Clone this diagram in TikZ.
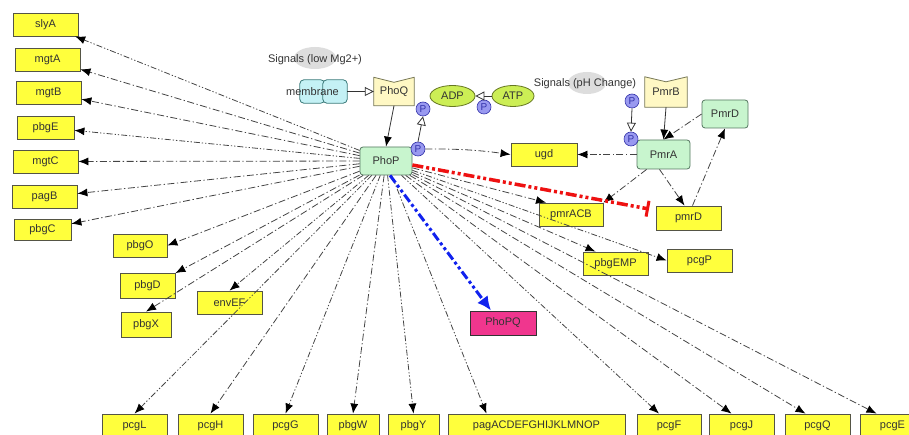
\documentclass[tikz,border=0pt]{standalone}
\usepackage{fontspec}
\setmainfont{Liberation Sans}
\usetikzlibrary{arrows.meta,shapes.geometric,backgrounds}
\definecolor{gy}{HTML}{FFFF3C}
\definecolor{bord}{HTML}{555545}
\definecolor{txt}{HTML}{333333}
\definecolor{gr}{HTML}{C8F5CE}
\definecolor{grb}{HTML}{557760}
\definecolor{pq}{HTML}{FFF8C4}
\definecolor{pqb}{HTML}{777755}
\definecolor{adp}{HTML}{CCEE55}
\definecolor{adpb}{HTML}{667722}
\definecolor{mag}{HTML}{F0368E}
\definecolor{mem}{HTML}{C4F1F5}
\definecolor{memb}{HTML}{3A7A7A}
\definecolor{pf}{HTML}{9999F0}
\definecolor{pb}{HTML}{3333AA}
\definecolor{lc}{HTML}{444444}
\definecolor{sg}{HTML}{DDDDDD}
\definecolor{rd}{HTML}{EE1111}
\definecolor{bl}{HTML}{1122EE}
\tikzset{
  gene/.style={draw=bord, fill=gy, line width=0.8pt, minimum height=23pt, inner sep=0pt, font=\fontsize{11}{13}\selectfont, text=txt},
  prot/.style={draw=grb, fill=gr, line width=0.8pt, rounded corners=3pt, inner sep=0pt, font=\fontsize{11}{13}\selectfont, text=txt},
  pnode/.style={circle, draw=pb, fill=pf, line width=0.6pt, minimum size=14pt, inner sep=0pt, font=\fontsize{10}{11}\selectfont, text=pb},
  mol/.style={ellipse, draw=adpb, fill=adp, line width=0.8pt, minimum height=21pt, inner sep=0pt, font=\fontsize{11}{13}\selectfont, text=txt},
  sig/.style={font=\fontsize{11}{13}\selectfont, text=txt},
  tip/.style={-{Latex[length=10pt,width=8pt,black]}},
  dd/.style={draw=lc, line width=0.8pt, tip, dash pattern=on 7pt off 2.5pt on 1.3pt off 2.5pt},
  ddd/.style={draw=lc, line width=0.8pt, tip, dash pattern=on 6pt off 2pt on 1.3pt off 2pt on 1.3pt off 2pt},
  opentip/.style={draw=txt, line width=0.8pt, -{Triangle[open, length=9pt, width=9pt]}},
}
\begin{document}
\begin{tikzpicture}[x=1pt,y=-1pt]
\useasboundingbox (0,0) rectangle (909,435);
% left column
\node[gene, minimum width=65pt] (slyA) at (45.5,24.5) {slyA};
\node[gene, minimum width=65pt] (mgtA) at (47.5,59.5) {mgtA};
\node[gene, minimum width=65pt] (mgtB) at (48.5,92.5) {mgtB};
\node[gene, minimum width=57pt] (pbgE) at (45.5,127.5) {pbgE};
\node[gene, minimum width=65pt] (mgtC) at (45.5,161.5) {mgtC};
\node[gene, minimum width=65pt] (pagB) at (44.5,197) {pagB};
\node[gene, minimum width=57pt, minimum height=21pt] (pbgC) at (42.5,229.5) {pbgC};
\node[gene, minimum width=54pt] (pbgO) at (140,245.5) {pbgO};
\node[gene, minimum width=55pt, minimum height=25pt] (pbgD) at (147.5,286) {pbgD};
\node[gene, minimum width=50pt, minimum height=25pt] (pbgX) at (146,324.5) {pbgX};
\node[gene, minimum width=65pt] (envEF) at (229.5,302.5) {envEF};
% bottom row
\node[gene, minimum width=65pt] (pcgL) at (134.5,425.5) {pcgL};
\node[gene, minimum width=65pt] (pcgH) at (210.5,425.5) {pcgH};
\node[gene, minimum width=65pt] (pcgG) at (285.5,425.5) {pcgG};
\node[gene, minimum width=52pt] (pbgW) at (353,425.5) {pbgW};
\node[gene, minimum width=51pt] (pbgY) at (413.5,425.5) {pbgY};
\node[gene, minimum width=177pt] (pagA) at (536.5,425.5) {pagACDEFGHIJKLMNOP};
\node[gene, minimum width=64pt] (pcgF) at (669,425.5) {pcgF};
\node[gene, minimum width=65pt] (pcgJ) at (741.5,425.5) {pcgJ};
\node[gene, minimum width=65pt] (pcgQ) at (817.5,425.5) {pcgQ};
\node[gene, minimum width=65pt] (pcgE) at (892.5,425.5) {pcgE};
% right side
\node[gene, minimum width=65pt] (pbgEMP) at (615.5,263.5) {pbgEMP};
\node[gene, minimum width=65pt] (pcgP) at (699.5,260.5) {pcgP};
\node[gene, minimum width=66pt, minimum height=24pt, fill=mag, draw=txt, line width=1pt] (PhoPQ) at (503,323) {PhoPQ};
\node[gene, minimum width=64pt] (pmrACB) at (571,214.5) {pmrACB};
\node[gene, minimum width=65pt, minimum height=24pt] (pmrD) at (688.5,218) {pmrD};
\node[gene, minimum width=66pt] (ugd) at (544,154.5) {ugd};
% proteins
\node[prot, minimum width=52pt, minimum height=28pt] (PhoP) at (386,161) {PhoP};
\node[prot, minimum width=53pt, minimum height=29pt] (PmrA) at (663.5,154.5) {PmrA};
\node[prot, minimum width=46pt, minimum height=28pt] (PmrD) at (725,114) {PmrD};
\node[minimum width=40pt, minimum height=28pt, inner sep=0pt, font=\fontsize{11}{13}\selectfont, text=txt] (PhoQ) at (394,91.5) {\raisebox{-2pt}{PhoQ}};
\node[minimum width=42pt, minimum height=30pt, inner sep=0pt, font=\fontsize{11}{13}\selectfont, text=txt] (PmrB) at (666,92) {\raisebox{-2pt}{PmrB}};
\node[minimum width=47pt, minimum height=23pt, inner sep=0pt] (memb) at (323.5,91.5) {};
\node[font=\fontsize{11}{13}\selectfont, text=txt] (membt) at (312.5,92) {membrane};
\node[mol, minimum width=45pt] (ADP) at (452.5,96) {ADP};
\node[mol, minimum width=42pt] (ATP) at (513,96) {ATP};
\node[pnode] (P1) at (484,107) {P};
\node[pnode] (P2) at (423,109) {P};
\node[pnode] (P3) at (418,149) {P};
\node[pnode] (P4) at (632,101) {P};
\node[pnode] (P5) at (631,139) {P};
\node[sig] (s1) at (315,60) {Signals (low Mg2+)};
\node[sig] (s2) at (585,84) {Signals (pH Change)};
\begin{scope}[on background layer]
  \fill[sg] (315,58) ellipse (21pt and 11pt);
  \fill[sg] (587,83) ellipse (19pt and 11pt);
  \draw[fill=pq, draw=pqb, line width=0.8pt] (PhoQ.north west) -- ([yshift=-5pt]PhoQ.north) -- (PhoQ.north east) -- (PhoQ.south east) -- (PhoQ.south west) -- cycle;
  \draw[fill=pq, draw=pqb, line width=0.8pt] (PmrB.north west) -- ([yshift=-5pt]PmrB.north) -- (PmrB.north east) -- (PmrB.south east) -- (PmrB.south west) -- cycle;
  \draw[fill=mem, draw=memb, line width=0.8pt, rounded corners=4pt] (memb.north west) rectangle ([xshift=25pt]memb.south west);
  \draw[fill=mem, draw=memb, line width=0.8pt, rounded corners=4pt] ([xshift=23pt]memb.north west) rectangle (memb.south east);
\end{scope}
% small mechanics
\draw[opentip] (memb.east) -- (PhoQ.west);
\draw[draw=txt, line width=0.8pt, tip] (PhoQ.south) -- (PhoP.north);
\draw[opentip] (ATP.west) -- (ADP.east);
\draw[opentip] (P3.north) -- (P2.south);
\draw[opentip] (P4.south) -- (P5.north);
\draw[draw=txt, line width=0.8pt, tip] (PmrB.south) -- (PmrA.north);
\draw[dd] (PmrD.west) -- (PmrA.north);
\draw[dd] (PmrA.west) -- (ugd.east);
\draw[dd] (PmrA.south west) ++(10pt,0) coordinate (pa1) (pa1) -- (pmrACB.north east);
\draw[dd] ([xshift=-4pt]PmrA.south) -- ([xshift=-4pt]pmrD.north);
\draw[dd] ([xshift=4pt]pmrD.north) -- (PmrD.south);
% PhoP fan
\draw[ddd] (PhoP) -- (slyA);
\draw[dd] (PhoP) -- (mgtA);
\draw[dd] (PhoP) -- (mgtB);
\draw[ddd] (PhoP) -- (pbgE);
\draw[dd] (PhoP) -- (mgtC);
\draw[dd] (PhoP) -- (pagB);
\draw[dd] (PhoP) -- (pbgC);
\draw[dd] (PhoP) -- (pbgO.east);
\draw[dd] (PhoP) -- (pbgD.north east);
\draw[dd] (PhoP) -- (pbgX.north);
\draw[ddd] (PhoP) -- (envEF.north);
\draw[ddd] (PhoP) -- (pcgL.north);
\draw[dd] (PhoP) -- (pcgH.north);
\draw[ddd] (PhoP) -- (pcgG.north);
\draw[dd] (PhoP) -- (pbgW.north);
\draw[ddd] (PhoP) -- (pbgY.north);
\draw[ddd] (PhoP) -- ([xshift=-50pt]pagA.north);
\draw[ddd] (PhoP) -- ([xshift=-10pt]pcgF.north);
\draw[dd] (PhoP) -- ([xshift=-10pt]pcgJ.north);
\draw[dd] (PhoP) -- ([xshift=-12pt]pcgQ.north);
\draw[dd] (PhoP) -- ([xshift=-16pt]pcgE.north);
\draw[dd] (PhoP) -- ([xshift=-20pt]pbgEMP.north);
\draw[ddd] (PhoP) -- (pcgP.west);
\draw[dd] (PhoP) -- ([xshift=-25pt]pmrACB.north);
\draw[dd] (P3.east) to[bend left=4] (ugd.west);
\coordinate (redend) at (649,209);
\draw[rd, line width=3.5pt, dash pattern=on 11pt off 3pt on 3pt off 3pt on 3pt off 3pt, -{Bar[width=16pt,line width=3pt]}] ([yshift=-4pt]PhoP.east) -- (redend);
\draw[bl, line width=3pt, dash pattern=on 9pt off 3pt on 3pt off 3pt on 3pt off 3pt, -{Latex[length=14pt,width=13pt]}] ([xshift=4pt]PhoP.south) -- ([xshift=-12pt]PhoPQ.north);
\end{tikzpicture}
\end{document}
